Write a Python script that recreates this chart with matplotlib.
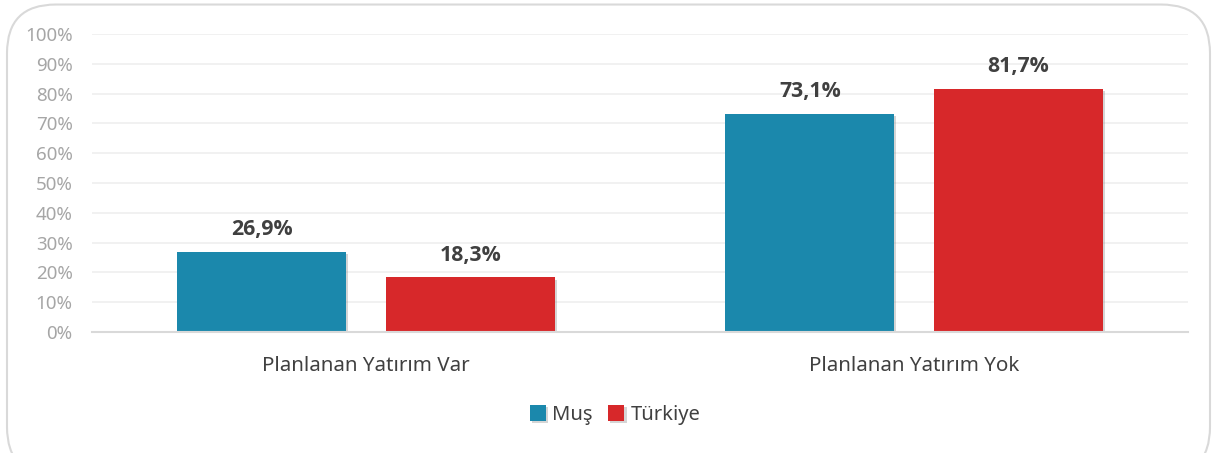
import matplotlib.pyplot as plt
import matplotlib.patheffects as pe
from matplotlib.patches import FancyBboxPatch
import numpy as np

plt.rcParams['font.family'] = ['Noto Sans', 'DejaVu Sans']

categories = ["Planlanan Yatırım Var", "Planlanan Yatırım Yok"]
series_names = ["Muş", "Türkiye"]
mus = [26.9, 73.1]
turkiye = [18.3, 81.7]
labels_mus = ["26,9%", "73,1%"]
labels_tr = ["18,3%", "81,7%"]
yticks = [0, 10, 20, 30, 40, 50, 60, 70, 80, 90, 100]

colors = ["#1B88AC", "#D7282A"]

fig = plt.figure(figsize=(12.17, 4.53), dpi=100)
ax = fig.add_axes([92 / 1217, 1 - 332 / 453, 1096 / 1217, 298 / 453])

# rounded frame around the chart
frame = FancyBboxPatch((7 / 1217, -0.05), 1203 / 1217, 1.04, transform=fig.transFigure,
                       boxstyle="round,pad=0,rounding_size=0.04", fc="none",
                       ec="#d9d9d9", lw=1.5, mutation_aspect=1217 / 453)
fig.patches.append(frame)

x = np.arange(len(categories))
w = 0.308
off = 0.19
shadow = [pe.SimplePatchShadow(offset=(1.5, -1.5), shadow_rgbFace="#888888", alpha=0.35), pe.Normal()]
b1 = ax.bar(x - off, mus, w, color=colors[0], label=series_names[0], zorder=3)
b2 = ax.bar(x + off, turkiye, w, color=colors[1], label=series_names[1], zorder=3)
for bars in (b1, b2):
    for b in bars:
        b.set_path_effects(shadow)

lbl_font = dict(fontsize=15.3, fontweight="bold", color="#404040",
                family=["Open Sans", "DejaVu Sans"])
for i in range(len(categories)):
    ax.text(x[i] - off, mus[i] + 4, labels_mus[i], ha="center", va="bottom", **lbl_font)
    ax.text(x[i] + off, turkiye[i] + 4, labels_tr[i], ha="center", va="bottom", **lbl_font)

ax.set_xlim(-0.5, 1.5)
ax.set_ylim(0, 100)
ax.set_yticks(yticks)
ax.set_yticklabels([f"{t}%" for t in yticks], color="#a6a6a6", fontsize=13.5)
ax.set_xticks(x)
ax.set_xticklabels(categories, color="#404040", fontsize=14.8)
ax.tick_params(axis="both", length=0)
ax.tick_params(axis="x", pad=17)
ax.tick_params(axis="y", pad=14)
ax.grid(axis="y", color="#efefef", lw=1.2, zorder=0)
for s in ["top", "right", "left"]:
    ax.spines[s].set_visible(False)
ax.spines["bottom"].set_color("#d9d9d9")
ax.spines["bottom"].set_linewidth(1.5)
ax.spines["bottom"].set_zorder(4)

fig.legend(loc="center", bbox_to_anchor=(615 / 1217, 1 - 415 / 453), ncol=2, frameon=False,
           fontsize=14.5, handlelength=0.8, handleheight=0.8, handletextpad=0.3,
           columnspacing=0.8, labelcolor="#404040")

fig.savefig("out.png", dpi=100)
